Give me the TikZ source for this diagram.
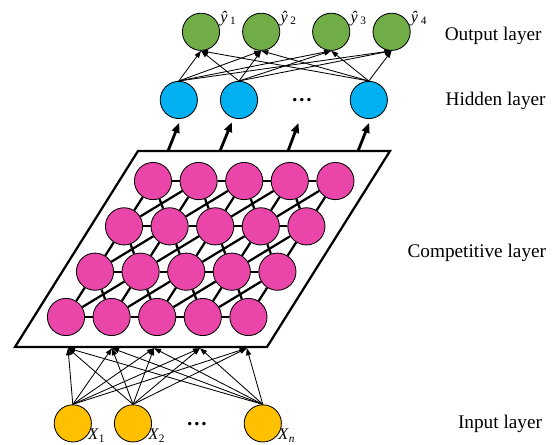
\documentclass[tikz,border=0pt]{standalone}
\usepackage{fontspec}
\setmainfont{Liberation Serif}
\usetikzlibrary{arrows.meta, positioning, calc}
\definecolor{outgreen}{HTML}{70AD47}
\definecolor{hidblue}{HTML}{00B0F0}
\definecolor{compink}{HTML}{EA45A9}
\definecolor{ingold}{HTML}{FFC000}

\begin{document}
\begin{tikzpicture}[
  neuron/.style={circle, draw=black, line width=0.6pt, minimum size=0.93cm, inner sep=0pt},
  thinarrow/.style={-{Triangle[length=5pt, width=3.6pt]}, line width=0.6pt},
  fatarrow/.style={-{Triangle[length=7pt, width=5.5pt]}, line width=2pt, shorten >=3pt},
  link/.style={line width=1.6pt},
  layername/.style={font=\fontsize{13.7}{16}\selectfont, inner sep=0pt},
  varname/.style={font=\fontsize{11.5}{13}\selectfont, inner sep=0.5pt},
  moredots/.style={font=\fontsize{15}{17}\selectfont\bfseries, inner sep=0pt}
]

% Canvas
\useasboundingbox (0,0) rectangle (13.95,11.125);

% =========== Competitive layer ===========
% Plane
\draw[line width=1.6pt] (0.375,2.45) -- (6.675,2.45) -- (9.75,7.35) -- (3.45,7.35) -- cycle;

% Neurons, 4 rows x 5 columns on a skewed grid
\foreach \r in {0,...,3} {
  \foreach \c in {0,...,4} {
    \node[neuron, fill=compink] (p-\r-\c) at ({1.65+1.14*\c+0.725*\r}, {3.2+1.133*\r}) {};
  }
}

% Links inside a row
\foreach \r in {0,...,3} {
  \foreach \c in {0,...,3} {
    \pgfmathtruncatemacro{\colR}{\c+1}
    \draw[link] (p-\r-\c) -- (p-\r-\colR);
  }
}

% Links to the row above
\foreach \r in {0,1,2} {
  \foreach \c in {0,...,4} {
    \pgfmathtruncatemacro{\up}{\r+1}
    \pgfmathtruncatemacro{\colL}{\c-1}
    \pgfmathtruncatemacro{\colR}{\c+1}
    \draw[link] (p-\r-\c) -- (p-\up-\c);
    \ifnum\c>0 \draw[link] (p-\r-\c) -- (p-\up-\colL); \fi
    \ifnum\c<4 \draw[link] (p-\r-\c) -- (p-\up-\colR); \fi
  }
}

% =========== Input layer ===========
\node[neuron, fill=ingold] (x1) at (1.82,0.54) {};
\node[neuron, fill=ingold] (x2) at (3.325,0.54) {};
\node[moredots] (xdots) at (4.925,0.52) {…};
\node[neuron, fill=ingold] (xn) at (6.57,0.54) {};

\node[varname, anchor=west] (xl1) at (x1.-40) {\textit{X}\textsubscript{1}};
\node[varname, anchor=west] (xl2) at (x2.-40) {\textit{X}\textsubscript{2}};
\node[varname, anchor=west] (xln) at (xn.-40) {\textit{X}\textsubscript{\textit{n}}};

% Feet of the input arrows on the plane
\coordinate (b1) at (1.70,2.42);
\coordinate (b2) at (2.80,2.42);
\coordinate (b3) at (3.85,2.42);
\coordinate (b4) at (5.00,2.42);
\coordinate (b5) at (6.17,2.42);

\foreach \i in {x1,x2,xn} {
  \foreach \k in {1,...,5} {
    \draw[thinarrow] (\i.north) -- (b\k);
  }
}

% =========== Hidden layer ===========
\node[neuron, fill=hidblue] (h1) at (4.47,8.625) {};
\node[neuron, fill=hidblue] (h2) at (5.975,8.625) {};
\node[moredots] (hdots) at (7.55,8.625) {…};
\node[neuron, fill=hidblue] (h3) at (9.22,8.625) {};

% Plane to hidden layer
\coordinate (t1) at (4.20,7.35);
\coordinate (t2) at (5.50,7.35);
\coordinate (t3) at (7.20,7.35);
\coordinate (t4) at (8.95,7.35);
\coordinate (e3) at (7.50,8.15);

\draw[fatarrow] (t1) -- (h1.276);
\draw[fatarrow] (t2) -- (h2.253);
\draw[fatarrow] (t3) -- (e3);
\draw[fatarrow] (t4) -- (h3.276);

% =========== Output layer ===========
\node[neuron, fill=outgreen] (o1) at (5.025,10.33) {};
\node[neuron, fill=outgreen] (o2) at (6.53,10.33) {};
\node[neuron, fill=outgreen] (o3) at (8.28,10.33) {};
\node[neuron, fill=outgreen] (o4) at (9.79,10.33) {};

\foreach \o in {1,...,4} {
  \node[varname, anchor=south west] (yl\o) at (o\o.15) {\textit{ŷ}\,\textsubscript{\o}};
}

\foreach \h in {h1,h2,h3} {
  \foreach \o in {o1,o2,o3,o4} {
    \draw[thinarrow] (\h.north) -- (\o.south);
  }
}

% Layer names
\node[layername] (nout) at (12.33,10.225) {Output layer};
\node[layername] (nhid) at (12.39,8.6) {Hidden layer};
\node[layername] (ncomp) at (11.92,4.79) {Competitive layer};
\node[layername] (nin) at (12.5,0.54) {Input layer};

\end{tikzpicture}
\end{document}
